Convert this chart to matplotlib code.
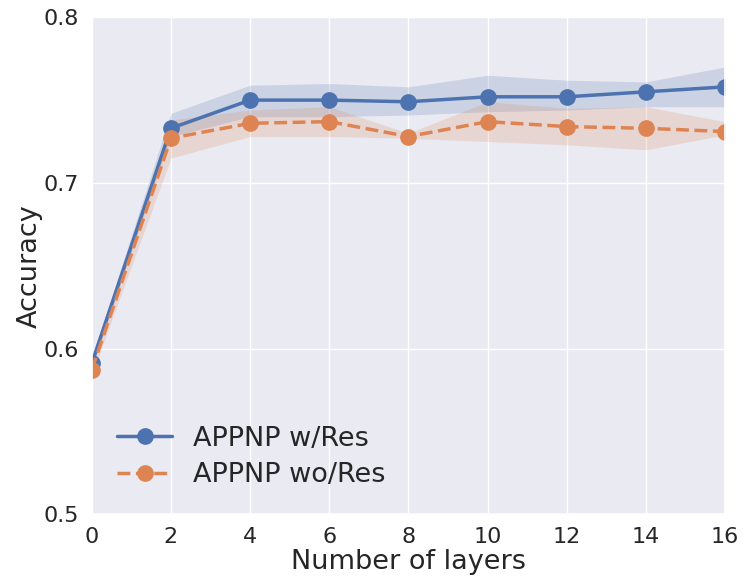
import numpy as np
import matplotlib
matplotlib.use("Agg")
import matplotlib.pyplot as plt
import seaborn as sns

sns.set_theme(style="darkgrid")
plt.rcParams['font.family'] = ['DejaVu Sans']

layers = [0, 2, 4, 6, 8, 10, 12, 14, 16]

res_mean = [0.591, 0.733, 0.750, 0.750, 0.749, 0.752, 0.752, 0.755, 0.758]
res_low = [0.588, 0.728, 0.740, 0.740, 0.741, 0.743, 0.744, 0.746, 0.746]
res_high = [0.594, 0.742, 0.759, 0.760, 0.758, 0.765, 0.762, 0.761, 0.770]

nores_mean = [0.587, 0.727, 0.736, 0.737, 0.728, 0.737, 0.734, 0.733, 0.731]
nores_low = [0.584, 0.715, 0.728, 0.728, 0.727, 0.725, 0.723, 0.720, 0.729]
nores_high = [0.590, 0.738, 0.744, 0.746, 0.730, 0.749, 0.745, 0.746, 0.737]

blue = sns.color_palette()[0]
orange = sns.color_palette()[1]

fig, ax = plt.subplots(figsize=(7.46, 5.77), dpi=100)
fig.subplots_adjust(left=0.123, right=0.972, top=0.97, bottom=0.109)

ax.fill_between(layers, res_low, res_high, color=blue, alpha=0.2, lw=0)
ax.fill_between(layers, nores_low, nores_high, color=orange, alpha=0.2, lw=0)
ax.plot(layers, res_mean, '-o', color=blue, lw=2.5, markersize=11, label='APPNP w/Res')
ax.plot(layers, nores_mean, '--o', color=orange, lw=2.5, markersize=11, label='APPNP wo/Res')

ax.set_xlim(0, 16)
ax.set_ylim(0.5, 0.8)
ax.set_xticks([0, 2, 4, 6, 8, 10, 12, 14, 16])
ax.set_yticks([0.5, 0.6, 0.7, 0.8])
ax.tick_params(labelsize=16)
ax.set_xlabel('Number of layers', fontsize=19.5, labelpad=1)
ax.set_ylabel('Accuracy', fontsize=19.5, labelpad=0)
ax.legend(loc='lower left', fontsize=19.5, frameon=False, borderaxespad=0.55,
          labelspacing=0.4)

fig.savefig('out.png', dpi=100)
